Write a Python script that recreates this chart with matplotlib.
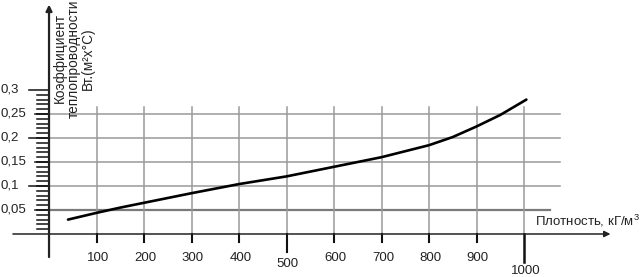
import numpy as np
import matplotlib
matplotlib.use('Agg')
import matplotlib.pyplot as plt

plt.rcParams['font.family'] = ['Liberation Sans', 'DejaVu Sans']
plt.rcParams['mathtext.fontset'] = 'custom'
plt.rcParams['mathtext.rm'] = 'Liberation Sans'

# data
density = [40, 100, 150, 200, 300, 400, 500, 600, 700, 800, 850, 900, 950, 1005]
conduct = [0.030, 0.044, 0.055, 0.065, 0.085, 0.104, 0.120, 0.140, 0.160, 0.185,
           0.202, 0.224, 0.248, 0.280]

x_ticks = [100, 200, 300, 400, 500, 600, 700, 800, 900, 1000]
x_labels = ['100', '200', '300', '400', '500', '600', '700', '800', '900', '1000']
y_ticks = [0.05, 0.1, 0.15, 0.2, 0.25, 0.3]
y_labels = ['0,05', '0,1', '0,15', '0,2', '0,25', '0,3']
y_minor = np.arange(1, 30) / 100.0

fig = plt.figure(figsize=(6.4, 2.77), dpi=100)
ax = fig.add_axes([0, 0, 1, 1])
ax.set_xlim(-103.2, 1244.2)
ax.set_ylim(-0.0896, 0.4875)
ax.axis('off')

grid_col = '#9a9a9a'

# horizontal grid
for v in y_ticks[:-1]:
    if v == 0.05:
        ax.plot([0, 1055], [v, v], color='#7a7a7a', lw=1.6, zorder=1)
    else:
        ax.plot([0, 1076], [v, v], color=grid_col, lw=1.1, zorder=1)

# vertical grid
for d in x_ticks:
    ax.plot([d, d], [0, 0.265], color=grid_col, lw=1.1, zorder=1)

# axes
ax.annotate('', xy=(1182, 0), xytext=(-76, 0),
            arrowprops=dict(arrowstyle='-|>', color='#222222', lw=1.1,
                            mutation_scale=9, shrinkA=0, shrinkB=0))
ax.annotate('', xy=(0, 0.478), xytext=(0, -0.048),
            arrowprops=dict(arrowstyle='-|>', color='#222222', lw=1.6,
                            mutation_scale=9, shrinkA=0, shrinkB=0))

# y ticks
for v in y_minor:
    ax.plot([-25, 0], [v, v], color='#111111', lw=1.1, zorder=2)
for v in y_ticks:
    left = -42 if round(v * 100) % 10 == 0 else -29
    ax.plot([left, 0], [v, v], color='#111111', lw=1.1, zorder=2)
for v, lab in zip(y_ticks, y_labels):
    ax.text(-102, v, lab, ha='left', va='center', fontsize=9.5, color='#222222')

# x ticks
for d, lab in zip(x_ticks, x_labels):
    if d == 1000:
        bot, ly = -0.058, -0.077
        lw = 1.8
    elif d == 500:
        bot, ly = -0.0375, -0.0625
        lw = 1.5
    else:
        bot, ly = -0.017, -0.05
        lw = 1.5
    ax.plot([d, d], [0, bot], color='#111111', lw=lw, zorder=2)
    ax.text(d + 3, ly, lab, ha='center', va='center', fontsize=9.5, color='#222222')

# curve
ax.plot(density, conduct, color='black', lw=1.9, solid_capstyle='round', zorder=3)

# axis titles
ax.text(52, 0.366, 'Коэффициент\nтеплопроводности\nВт.(м²х°С)', rotation=90,
        ha='center', va='center', multialignment='center', fontsize=9.8,
        linespacing=1.0, color='#222222')
ax.text(1023, 0.027, 'Плотность, кГ/м$^3$', ha='left', va='center',
        fontsize=9.5, color='#222222')

fig.savefig('out.png', dpi=100)
